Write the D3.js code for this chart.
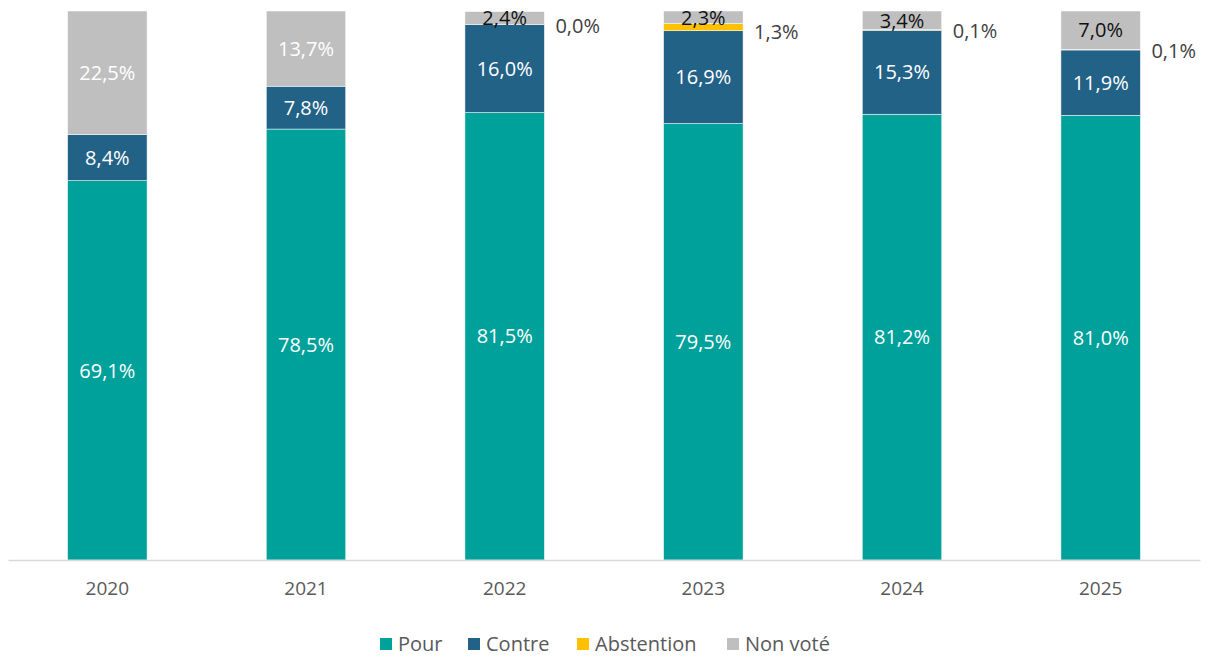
<!DOCTYPE html>
<html>
    <head>
        <meta charset="utf-8">
        <style>
          body { margin: 0; background: #fff; }
          text { font-family: "Open Sans", "Noto Sans", sans-serif; }
        </style>
    </head>
    <body>
        <script src="https://d3js.org/d3.v7.min.js"></script>
        <script>
          const years = ['2020', '2021', '2022', '2023', '2024', '2025'];
          const series = ['Pour', 'Contre', 'Abstention', 'Non voté'];
          const pour = [69.1, 78.5, 81.5, 79.5, 81.2, 81.0];
          const contre = [8.4, 7.8, 16.0, 16.9, 15.3, 11.9];
          const abstention = [0, 0, 0.0, 1.3, 0.1, 0.1];
          const nonVote = [22.5, 13.7, 2.4, 2.3, 3.4, 7.0];
          const colors = ['#00A19A', '#236287', '#FFC000', '#BFBFBF'];

          const rows = years.map((y, i) => ({
            year: y,
            'Pour': pour[i],
            'Contre': contre[i],
            'Abstention': abstention[i],
            'Non voté': nonVote[i]
          }));

          const width = 1209, height = 660;
          const svg = d3.select('body').append('svg')
            .attr('width', width)
            .attr('height', height);

          const x = d3.scaleBand()
            .domain(years)
            .range([8, 1200])
            .paddingInner(0.6)
            .paddingOuter(0.3);

          const y = d3.scaleLinear()
            .domain([0, 100])
            .range([560, 11]);

          const color = d3.scaleOrdinal().domain(series).range(colors);
          const fmt = v => v.toFixed(1).replace('.', ',') + '%';

          const stacked = d3.stack().keys(series)(rows);

          const groups = svg.append('g')
            .selectAll('g')
            .data(stacked)
            .join('g')
            .attr('fill', d => color(d.key));

          groups.selectAll('rect')
            .data(d => d.filter(s => s[1] - s[0] > 0))
            .join('rect')
            .attr('x', d => x(d.data.year))
            .attr('y', d => y(d[1]))
            .attr('width', x.bandwidth())
            .attr('height', d => y(d[0]) - y(d[1]))
            .attr('stroke', '#fff')
            .attr('stroke-width', 0.5);

          // x axis
          const xAxis = svg.append('g')
            .attr('transform', 'translate(0,560)')
            .call(d3.axisBottom(x).tickSize(0).tickSizeOuter(0).tickPadding(22));
          xAxis.select('.domain').attr('stroke', '#D9D9D9').attr('stroke-width', 1.5);
          xAxis.selectAll('text')
            .attr('font-size', 19)
            .attr('fill', '#595959')
            .style('font-family', '"Open Sans", sans-serif');

          // labels inside bars
          const labels = svg.append('g').attr('font-size', 20).attr('text-anchor', 'middle');
          stacked.forEach(layer => {
            if (layer.key === 'Abstention') return;
            layer.forEach(s => {
              const v = s[1] - s[0];
              let dark = layer.key === 'Non voté' && v < 10;
              labels.append('text')
                .attr('x', x(s.data.year) + x.bandwidth() / 2)
                .attr('y', (y(s[0]) + y(s[1])) / 2)
                .attr('dy', '0.36em')
                .attr('fill', dark ? '#111' : '#fff')
                .text(fmt(v));
            });
          });

          // abstention labels, outside to the right
          const abs = stacked.find(l => l.key === 'Abstention');
          abs.forEach((s, i) => {
            if (i < 2) return;
            labels.append('text')
              .attr('text-anchor', 'start')
              .attr('x', x(s.data.year) + x.bandwidth() + 11)
              .attr('y', y(s[0]) + 6)
              .attr('dy', '0.1em')
              .attr('fill', '#404040')
              .text(fmt(s[1] - s[0]));
          });

          // legend
          const legendX = [380, 468, 577, 727];
          const legend = svg.append('g')
            .selectAll('g')
            .data(series)
            .join('g')
            .attr('transform', (d, i) => `translate(${legendX[i]},638)`);
          legend.append('rect')
            .attr('width', 12).attr('height', 12)
            .attr('fill', d => color(d));
          legend.append('text')
            .attr('x', 18).attr('y', 6).attr('dy', '0.36em')
            .attr('font-size', 20)
            .attr('fill', '#595959')
            .text(d => d);
        </script>
    </body>
</html>
